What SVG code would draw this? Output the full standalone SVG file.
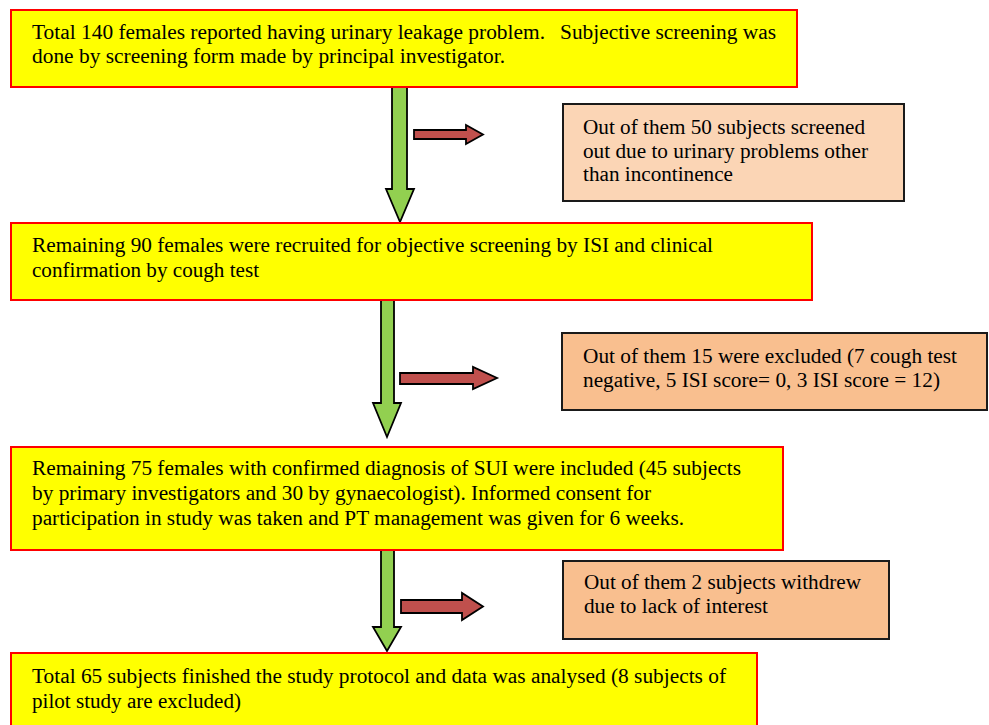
<svg xmlns="http://www.w3.org/2000/svg" width="989" height="725" viewBox="0 0 989 725">
<style>
text{font-family:"Liberation Serif","Times New Roman",serif;font-size:20px;fill:#000}
.main{fill:#FFFF00;stroke:#FF0000;stroke-width:2}
.side1{fill:#FBD5B5;stroke:#1a1a1a;stroke-width:2}
.side2{fill:#F9BF8F;stroke:#1a1a1a;stroke-width:2}
.down{fill:#92D050;stroke:#000;stroke-width:1.8;stroke-linejoin:miter}
.right{fill:#C0504D;stroke:#000;stroke-width:1.8;stroke-linejoin:miter}
</style>
<rect width="989" height="725" fill="#fff"/>
<g id="connectors">
<path class="down" d="M392,87 H407 V189 H414 L400,222 L386,189 H392 Z"/>
<path class="right" d="M414,130 H466 V125 L483,134.5 L466,144 V139 H414 Z"/>
<path class="down" d="M381,300 H394 V403 H401 L387,437 L373,403 H381 Z"/>
<path class="right" d="M400,373 H473 V367 L497,378 L473,389 V384 H400 Z"/>
<path class="down" d="M381,550 H394 V627 H401 L387,651 L373,627 H381 Z"/>
<path class="right" d="M401,600 H462 V593 L483,606.5 L462,620 V613 H401 Z"/>
</g>
<g id="node1">
<rect class="main" x="11" y="10" width="786" height="77"/>
<text x="32" y="39" xml:space="preserve"><tspan x="32" textLength="513" lengthAdjust="spacingAndGlyphs">Total 140 females reported having urinary leakage problem.</tspan><tspan x="560" textLength="216" lengthAdjust="spacingAndGlyphs">Subjective screening was</tspan></text>
<text x="32" y="63" textLength="473" lengthAdjust="spacingAndGlyphs">done by screening form made by principal investigator.</text>
</g>
<g id="node2">
<rect class="side1" x="563" y="104" width="341" height="97"/>
<text x="583" y="134" textLength="282" lengthAdjust="spacingAndGlyphs">Out of them 50 subjects screened</text>
<text x="583" y="158" textLength="285" lengthAdjust="spacingAndGlyphs">out due to urinary problems other</text>
<text x="583" y="181" textLength="150" lengthAdjust="spacingAndGlyphs">than incontinence</text>
</g>
<g id="node3">
<rect class="main" x="11" y="223" width="801" height="77"/>
<text x="32" y="252" textLength="681" lengthAdjust="spacingAndGlyphs">Remaining 90 females were recruited for objective screening by ISI and clinical</text>
<text x="32" y="277" textLength="227" lengthAdjust="spacingAndGlyphs">confirmation by cough test</text>
</g>
<g id="node4">
<rect class="side2" x="562" y="333" width="425" height="77"/>
<text x="583" y="363" textLength="374" lengthAdjust="spacingAndGlyphs">Out of them 15 were excluded (7 cough test</text>
<text x="583" y="387" textLength="357" lengthAdjust="spacingAndGlyphs">negative, 5 ISI score= 0, 3 ISI score = 12)</text>
</g>
<g id="node5">
<rect class="main" x="11" y="447" width="772" height="103"/>
<text x="32" y="475" textLength="709" lengthAdjust="spacingAndGlyphs">Remaining 75 females with confirmed diagnosis of SUI were included (45 subjects</text>
<text x="32" y="500" textLength="619" lengthAdjust="spacingAndGlyphs">by primary investigators and 30 by gynaecologist). Informed consent for</text>
<text x="32" y="525" textLength="652" lengthAdjust="spacingAndGlyphs">participation in study was taken and PT management was given for 6 weeks.</text>
</g>
<g id="node6">
<rect class="side2" x="563" y="561" width="326" height="78"/>
<text x="584" y="589" textLength="277" lengthAdjust="spacingAndGlyphs">Out of them 2 subjects withdrew</text>
<text x="584" y="613" textLength="184" lengthAdjust="spacingAndGlyphs">due to lack of interest</text>
</g>
<g id="node7">
<rect class="main" x="11" y="653" width="746" height="90"/>
<text x="32" y="683" textLength="694" lengthAdjust="spacingAndGlyphs">Total 65 subjects finished the study protocol and data was analysed (8 subjects of</text>
<text x="32" y="708" textLength="209" lengthAdjust="spacingAndGlyphs">pilot study are excluded)</text>
</g>
</svg>
